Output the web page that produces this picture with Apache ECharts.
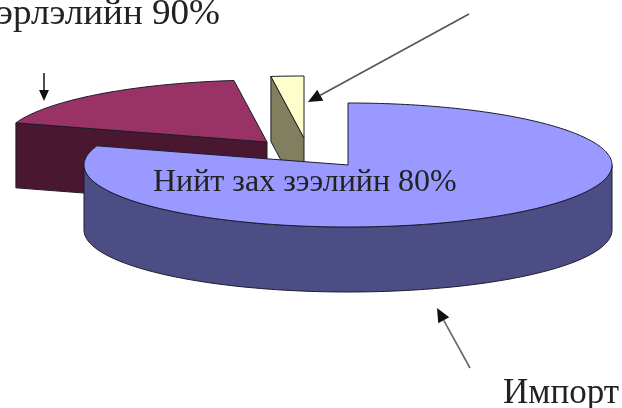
<!DOCTYPE html>
<html><head><meta charset="utf-8">
<style>html,body{margin:0;padding:0;background:#fff}#c{width:622px;height:408px;filter:blur(0.7px)}</style>
<script src="https://cdn.jsdelivr.net/npm/echarts@6/dist/echarts.min.js"></script>
</head><body><div id="c"></div>
<script>
const categories = ['Импорт', 'Нэрлэлийн', 'Бусад'];
const values = [80, 18, 2];
const topColors = ['#9999ff', '#993366', '#ffffcc'];
const sideColors = ['#4d4d85', '#4a1730', '#808060'];
const centers = [[348,165],[267,142],[304,138]];
const drawOrder = [1, 2, 0];
const annotations = [
  {text:'Нийт зах зээлийн 80%', x:153, y:183, size:32, sx:1},
  {text:'эрлэлийн 90%', x:-3, y:15, size:36, sx:1.03},
  {text:'Импорт', x:503, y:394, size:35, sx:1}
];
const RX = 264, RY = 62, DEPTH = 65;
const total = values.reduce((a,b)=>a+b,0);
const starts = values.map((v,i)=>values.slice(0,i).reduce((a,b)=>a+b,0)/total*Math.PI*2);
function pt(c,a,dy){return [c[0]+RX*Math.sin(a), c[1]-RY*Math.cos(a)+(dy||0)];}
function arc(c,a0,a1,dy){const pts=[];const n=Math.max(4,Math.ceil((a1-a0)/0.02));
  for(let k=0;k<=n;k++)pts.push(pt(c,a0+(a1-a0)*k/n,dy));return pts;}
function poly(points,fill){return {type:'polygon',shape:{points:points},
  style:{fill:fill,stroke:'#1c1c2c',lineWidth:1,lineJoin:'round'}};}
function renderItem(params,api){
  const i=api.value(1), v=api.value(0), c=centers[i];
  const a0=starts[i], a1=a0+v/total*Math.PI*2;
  const kids=[];
  if(i===0){
    const w0=Math.PI/2, w1=Math.PI*1.5;
    kids.push(poly(arc(c,w0,w1,0).concat(arc(c,w0,w1,DEPTH).reverse()),sideColors[0]));
  } else {
    kids.push(poly([pt(c,a0),c,[c[0],c[1]+DEPTH],pt(c,a0,DEPTH)],sideColors[i]));
  }
  kids.push(poly([c].concat(arc(c,a0,a1,0)),topColors[i]));
  return {type:'group',children:kids};
}
function arrow(x0,y0,x1,y1,size,color){
  const t=Math.atan2(y1-y0,x1-x0),l=size,w=size*0.45;
  const bx=x1-l*Math.cos(t),by=y1-l*Math.sin(t);
  return [{type:'line',shape:{x1:x0,y1:y0,x2:bx,y2:by},style:{stroke:color,lineWidth:1.6}},
    {type:'polygon',shape:{points:[[x1,y1],[bx-w*Math.sin(t),by+w*Math.cos(t)],[bx+w*Math.sin(t),by-w*Math.cos(t)]]},style:{fill:'#111'}}];
}
const chart=echarts.init(document.getElementById('c'),null,{renderer:'canvas'});
chart.setOption({
  animation:false,
  backgroundColor:'#fff',
  series:[{type:'custom',coordinateSystem:'none',renderItem:renderItem,silent:true,z:1,
    data:drawOrder.map(i=>({name:categories[i],value:[values[i],i]}))}],
  graphic:[
    ...annotations.map(a=>({type:'text',z:10,x:a.x,y:a.y,scaleX:a.sx,style:{text:a.text,fill:'#222',
      font:a.size+'px "Liberation Serif"',verticalAlign:'middle',align:'left'}})),
    ...arrow(469,14,308,102,14,'#555'),
    ...arrow(44,73,44,101,11,'#222'),
    ...arrow(470,368,437,308,14,'#666')
  ]
});
</script></body></html>
